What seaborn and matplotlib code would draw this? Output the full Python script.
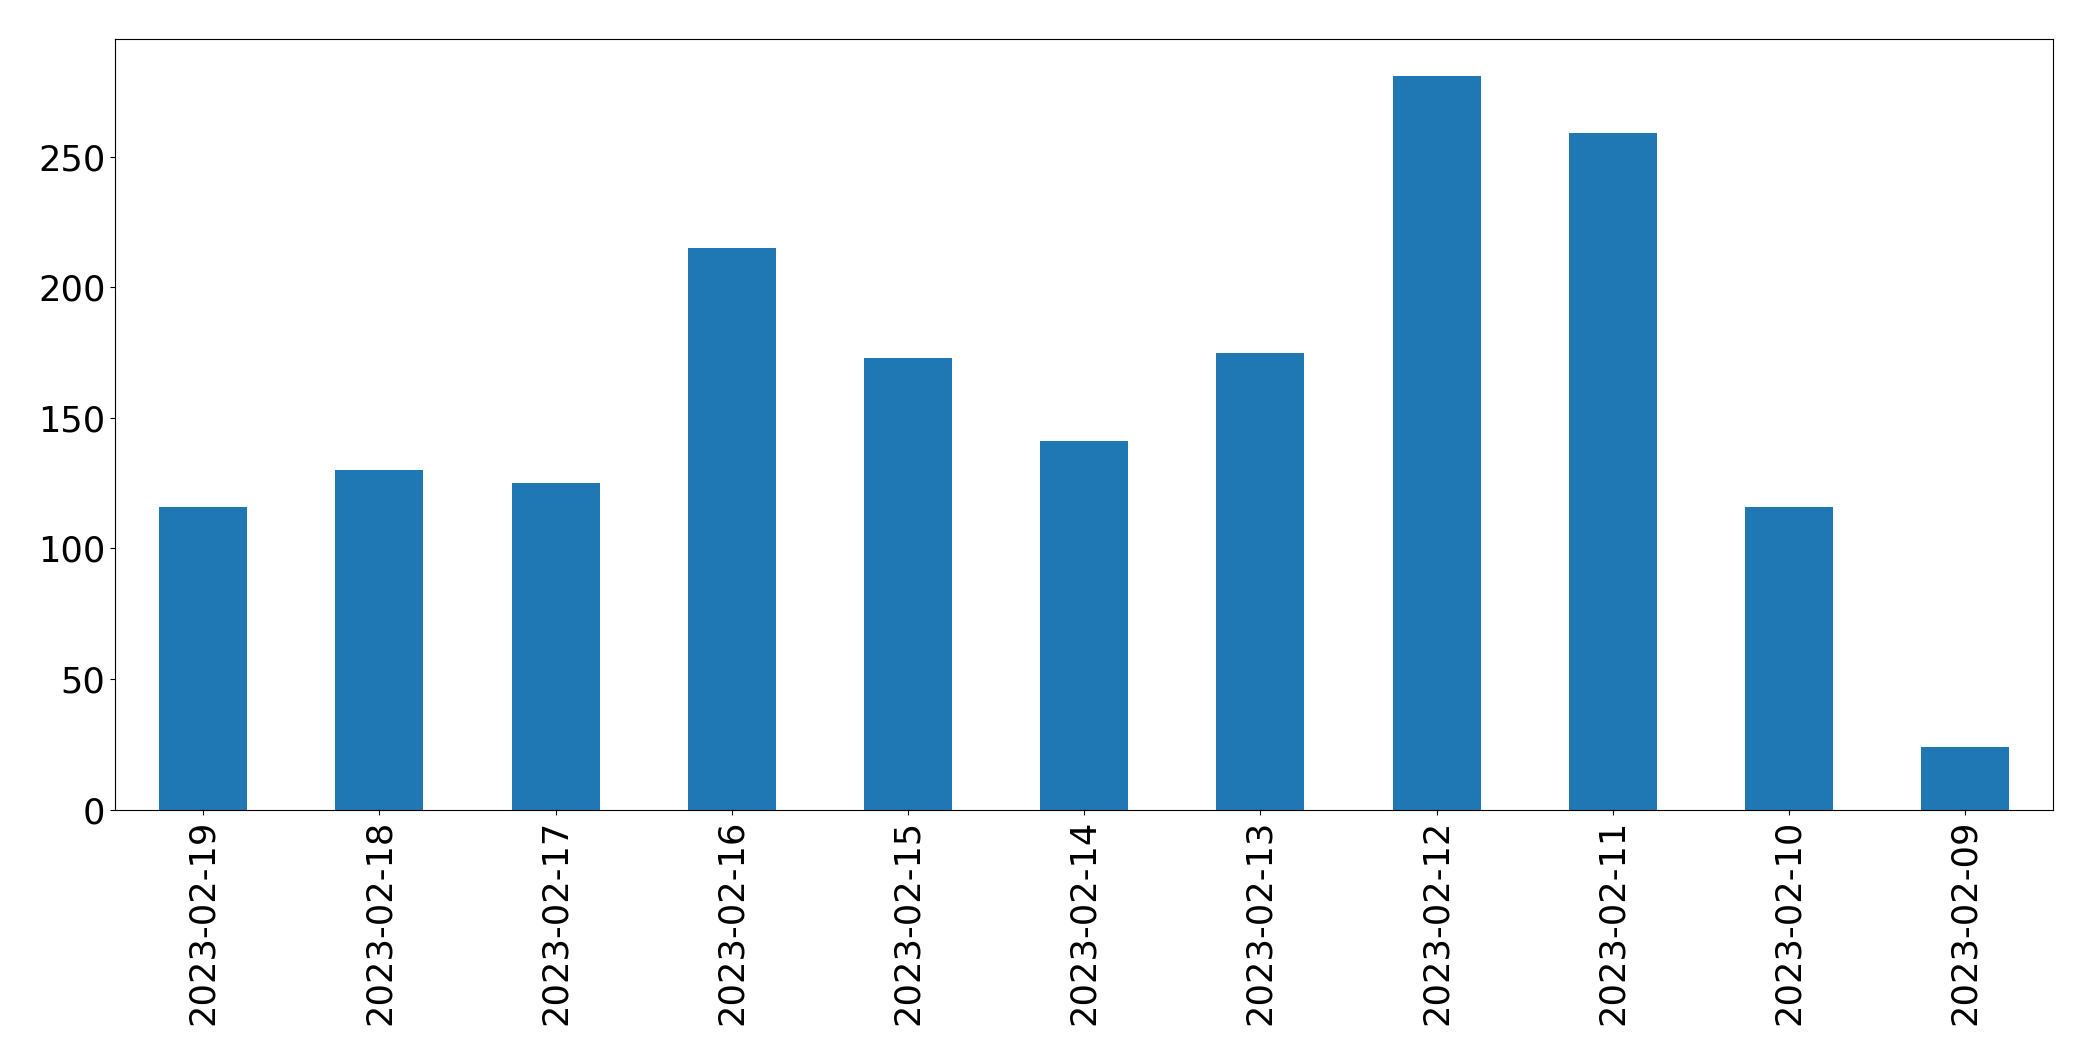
import pandas as pd
import seaborn as sns
import matplotlib
matplotlib.use("Agg")
import matplotlib.pyplot as plt

# Datos (conteo diario)
dates = ["2023-02-19", "2023-02-18", "2023-02-17", "2023-02-16", "2023-02-15",
         "2023-02-14", "2023-02-13", "2023-02-12", "2023-02-11", "2023-02-10",
         "2023-02-09"]
counts = [116, 130, 125, 215, 173, 141, 175, 281, 259, 116, 24]

df = pd.DataFrame({"date": dates, "count": counts})

fig, ax = plt.subplots(figsize=(20.93, 10.61), dpi=100)
fig.subplots_adjust(left=0.055, right=0.981, bottom=0.237, top=0.963)

sns.barplot(data=df, x="date", y="count", order=dates, color="#1f77b4",
            saturation=1, width=0.5, ax=ax)

ax.set_xlabel("")
ax.set_ylabel("")
ax.tick_params(axis="both", labelsize=25.4)
ax.tick_params(axis="x", labelrotation=90)
for s in ax.spines.values():
    s.set_visible(True)
    s.set_color("black")

fig.savefig("out.png", dpi=100)
